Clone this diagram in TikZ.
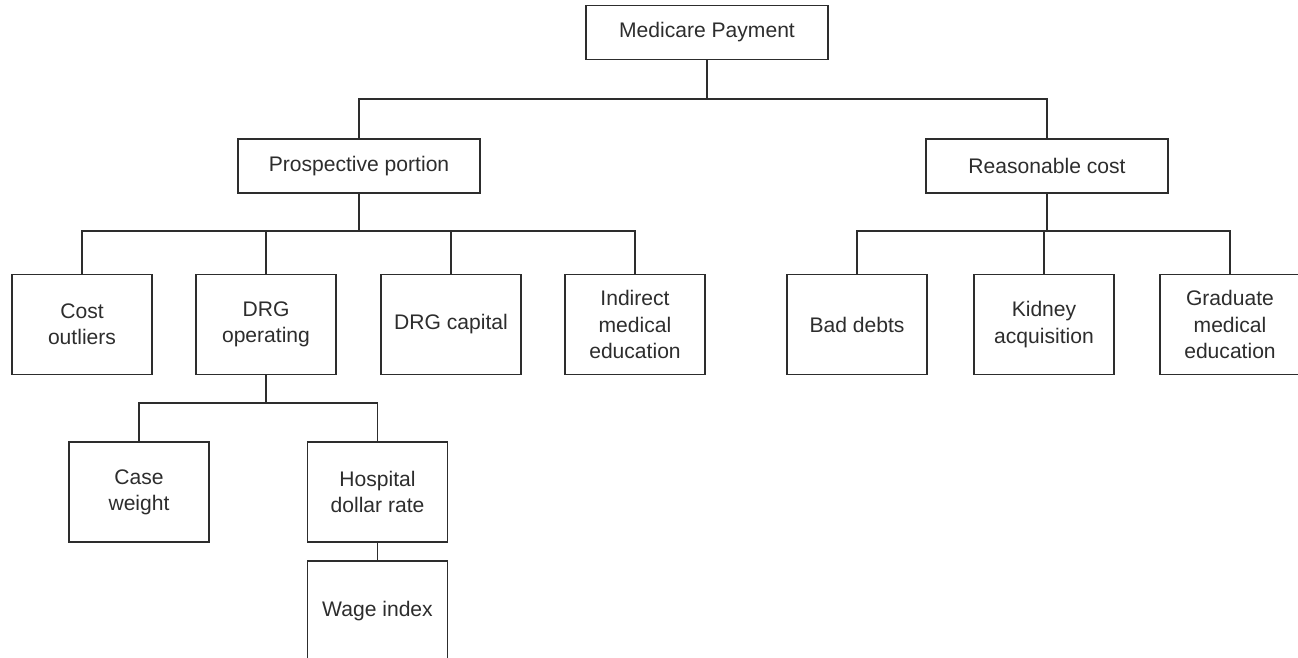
\documentclass[tikz,border=0pt]{standalone}
\usepackage{fontspec}
\setmainfont{Liberation Sans}
\definecolor{inkgray}{RGB}{45,45,45}
\tikzset{
  wide box/.style={draw=inkgray, line width=0.65pt, text=inkgray,
    minimum width=4.84cm, minimum height=1.08cm, inner sep=0pt,
    font=\fontsize{12}{15}\selectfont},
  small box/.style={draw=inkgray, line width=0.65pt, text=inkgray,
    minimum width=2.8cm, minimum height=2cm, inner sep=0pt, align=center,
    font=\fontsize{12}{15}\selectfont},
  link/.style={draw=inkgray, line width=0.65pt}
}
\begin{document}
\begin{tikzpicture}[x=0.02cm, y=-0.02cm]

  % page frame
  \useasboundingbox (0,0) rectangle (1298,657);

  % top level
  \node[wide box] (pay) at (707,32.5) {Medicare Payment};

  % second level
  \node[wide box] (prosp) at (359,166) {Prospective portion};
  \node[wide box] (reas)  at (1047,166) {Reasonable cost};

  % third level, prospective side
  \node[small box] (outl)  at (82,324.5)  {Cost\\outliers};
  \node[small box] (drgop) at (266,324.5) {DRG\\operating};
  \node[small box] (drgcap) at (451,324.5) {DRG capital};
  \node[small box] (ime)   at (635,324.5) {Indirect\\medical\\education};

  % third level, cost side
  \node[small box] (bad)    at (857,324.5)  {Bad debts};
  \node[small box] (kidney) at (1044,324.5) {Kidney\\acquisition};
  \node[small box] (gme)    at (1230,324.5) {Graduate\\medical\\education};

  % fourth level
  \node[small box] (case) at (139,492)   {Case\\weight};
  \node[small box] (hosp) at (377.5,492) {Hospital\\dollar rate};
  \node[small box] (wage) at (377.5,611) {Wage index};

  % bus points
  \coordinate (busA) at (707,99);
  \coordinate (busB) at (359,231);
  \coordinate (busC) at (1047,231);
  \coordinate (busD) at (266,403);

  % connectors
  \draw[link] (pay.south) -- (busA);
  \draw[link] (prosp.north) |- (busA) -| (reas.north);

  \draw[link] (prosp.south) -- (busB);
  \draw[link] (outl.north) |- (busB) -| (ime.north);
  \foreach \n in {drgop,drgcap}
    \draw[link] (\n.north) -- (\n.north |- busB);

  \draw[link] (reas.south) -- (busC);
  \draw[link] (bad.north) |- (busC) -| (gme.north);
  \draw[link] (kidney.north) -- (kidney.north |- busC);

  \draw[link] (drgop.south) -- (busD);
  \draw[link] (case.north) |- (busD) -| (hosp.north);
  \draw[link] (hosp.south) -- (wage.north);

\end{tikzpicture}
\end{document}
